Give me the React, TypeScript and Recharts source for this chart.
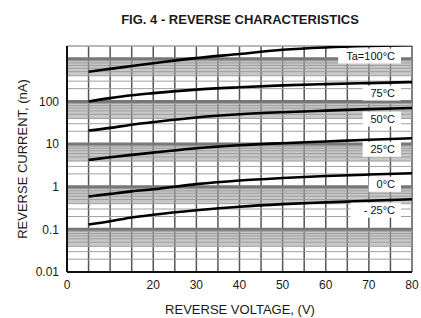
import React from 'react';
import { LineChart, Line, XAxis, YAxis, CartesianGrid, ReferenceArea, ReferenceLine, Label } from 'recharts';

const voltages = [5, 10, 15, 20, 30, 40, 50, 60, 70, 80];
const ta100 = [500, 582, 678, 790, 1040, 1300, 1630, 1850, 2000, 2100];
const ta75 = [100, 120, 140, 157, 190, 215, 238, 255, 270, 285];
const ta50 = [20.7, 24, 28.5, 32.7, 42, 50, 56, 61, 66, 70];
const ta25 = [4.25, 4.9, 5.6, 6.3, 8, 9.4, 10.5, 11.5, 12.6, 13.7];
const ta0 = [0.59, 0.68, 0.78, 0.87, 1.15, 1.4, 1.6, 1.78, 1.93, 2.07];
const taM25 = [0.13, 0.155, 0.19, 0.22, 0.28, 0.34, 0.39, 0.43, 0.47, 0.51];

const seriesKeys = ['t100', 't75', 't50', 't25', 't0', 'tm25'];
const seriesNames = ['Ta=100°C', '75°C', '50°C', '25°C', '0°C', '- 25°C'];
const seriesValues = [ta100, ta75, ta50, ta25, ta0, taM25];

const xTicks = [0, 5, 10, 15, 20, 25, 30, 35, 40, 45, 50, 55, 60, 65, 70, 75, 80];
const xLabeled = [0, 20, 30, 40, 50, 60, 70, 80];
const decades = [0.01, 0.1, 1, 10, 100, 1000];
const yDomain: [number, number] = [0.01, 2000];
const bandDecades = [0.01, 0.1, 1, 10, 100];

const FONT = '"Liberation Sans", Arial, Helvetica, sans-serif';

const yTicks: number[] = [];
decades.forEach((d) => {
  for (let m = 1; m <= 9; m++) {
    const v = +(d * m).toPrecision(3);
    if (v <= yDomain[1]) yTicks.push(v);
  }
});
yTicks.push(yDomain[1]);

const data = voltages.map((v, i) => {
  const row: Record<string, number> = { v };
  seriesKeys.forEach((k, j) => {
    row[k] = seriesValues[j][i];
  });
  return row;
});

const fmtY = (v: number) => {
  const d = decades.find((x) => Math.abs(x - v) < x * 1e-6);
  if (d === undefined || d > 100) return '';
  return String(d);
};
const fmtX = (v: number) => (xLabeled.includes(v) ? String(v) : '');

const makeLabel = (name: string) => (props: any) => {
  const { x, y, index } = props;
  if (index !== voltages.length - 1) return null;
  const w = name.length * 6.1 + 2;
  const right = x - 17;
  const cy = y + 11;
  return (
    <g>
      <rect x={right - w - 6} y={cy - 7.5} width={w + 12} height={15} fill="#fff" />
      <text x={right} y={cy} dy="0.36em" textAnchor="end" fontSize={11} fontFamily={FONT} fill="#111">
        {name}
      </text>
    </g>
  );
};

export default function App() {
  return (
    <div style={{ position: 'absolute', left: 0, top: 0, width: 421, height: 318, background: '#fff' }}>
      <div
        style={{
          position: 'absolute',
          left: 240,
          top: 13,
          transform: 'translateX(-50%)',
          whiteSpace: 'nowrap',
          fontFamily: FONT,
          fontSize: 13,
          lineHeight: '14px',
          fontWeight: 'bold',
          color: '#1a1a1a',
        }}
      >
        FIG. 4 - REVERSE CHARACTERISTICS
      </div>
      <LineChart width={421} height={318} data={data} margin={{ top: 46, right: 9, bottom: 0, left: 0 }}>
        {bandDecades.map((d) => (
          <ReferenceArea key={'b' + d} y1={d * 4} y2={d * 10} fill="#9a9a9a" fillOpacity={0.55} stroke="none" ifOverflow="hidden" />
        ))}
        <CartesianGrid horizontal={false} stroke="#555" strokeWidth={1.5} />
        <CartesianGrid vertical={false} stroke="#a0a0a0" strokeWidth={1} />
        {decades.slice(1, 6).map((d) => (
          <ReferenceLine key={'d' + d} y={d} stroke="#777" strokeWidth={3} />
        ))}
        <XAxis
          dataKey="v"
          type="number"
          domain={[0, 80]}
          ticks={xTicks}
          interval={0}
          tickFormatter={fmtX}
          tickLine={false}
          axisLine={{ stroke: '#111', strokeWidth: 2 }}
          height={46}
          tick={{ fontSize: 12, fontFamily: FONT, fill: '#1a1a1a' }}
        >
          <Label
            content={(p: any) => {
              const vb = p.viewBox;
              return (
                <text x={240} y={vb.y + 37} dy="0.36em" textAnchor="middle" fontSize={13} fontFamily={FONT} fill="#1a1a1a">
                  REVERSE  VOLTAGE, (V)
                </text>
              );
            }}
          />
        </XAxis>
        <XAxis xAxisId="top" orientation="top" type="number" domain={[0, 80]} height={0} tick={false} tickLine={false} axisLine={{ stroke: '#111', strokeWidth: 2 }} />
        <YAxis
          scale="log"
          type="number"
          domain={yDomain}
          allowDataOverflow
          ticks={yTicks}
          interval={0}
          tickFormatter={fmtY}
          tickLine={false}
          axisLine={{ stroke: '#111', strokeWidth: 2 }}
          width={67}
          tick={{ fontSize: 12, fontFamily: FONT, fill: '#1a1a1a' }}
        >
          <Label
            content={(p: any) => {
              const vb = p.viewBox;
              const cx = 22;
              const cy = vb.y + vb.height / 2;
              return (
                <text x={cx} y={cy} dy="0.36em" textAnchor="middle" transform={`rotate(-90, ${cx}, ${cy})`} fontSize={13} fontFamily={FONT} fill="#1a1a1a">
                  REVERSE  CURRENT, (nA)
                </text>
              );
            }}
          />
        </YAxis>
        <YAxis yAxisId="right" orientation="right" type="number" width={0} tick={false} tickLine={false} axisLine={{ stroke: '#111', strokeWidth: 2 }} />
        {seriesKeys.map((k, j) => (
          <Line
            key={k}
            dataKey={k}
            type="monotone"
            stroke="#000"
            strokeWidth={2.6}
            dot={false}
            isAnimationActive={false}
            label={makeLabel(seriesNames[j])}
          />
        ))}
      </LineChart>
    </div>
  );
}
